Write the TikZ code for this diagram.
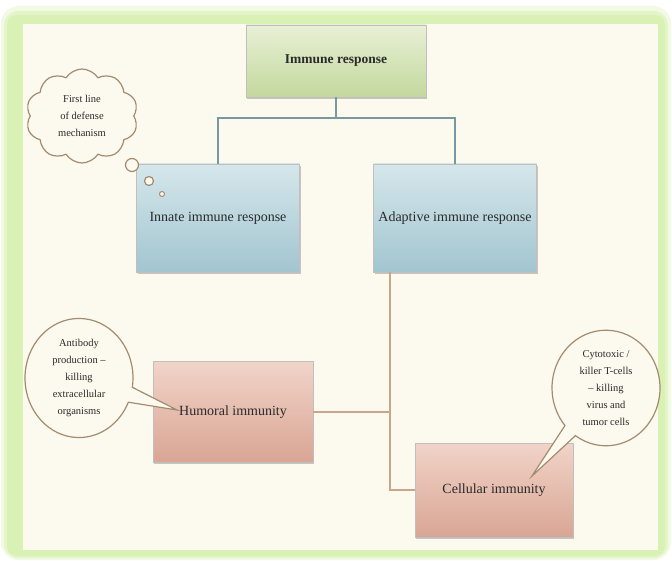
\documentclass[tikz,border=0pt]{standalone}
\usepackage{fontspec}
\setmainfont{Liberation Serif}
\usepackage{xcolor}
\usetikzlibrary{arrows.meta,positioning,shapes.symbols,shapes.callouts,shadows}

\definecolor{frameGreen}{HTML}{D9F1B4}
\definecolor{paper}{HTML}{FCF9EE}
\definecolor{linkBlue}{HTML}{7898A2}
\definecolor{linkBrown}{HTML}{C9A68A}
\definecolor{noteLine}{HTML}{A38B70}
\definecolor{inkGray}{HTML}{2A2A2A}
\definecolor{greenTop}{HTML}{E8F0D6}
\definecolor{greenBot}{HTML}{C3D89D}
\definecolor{blueTop}{HTML}{D5E7EB}
\definecolor{blueBot}{HTML}{A2C5D0}
\definecolor{brownTop}{HTML}{F1D4C8}
\definecolor{brownBot}{HTML}{D9A594}

\begin{document}
\begin{tikzpicture}[x=1pt,y=-1pt,thick,every node/.style={text=inkGray}]
\tikzstyle{box}=[draw=black!25, thin, align=center, minimum width=163, minimum height=108,
  font=\fontsize{14}{16}\selectfont,
  drop shadow={shadow xshift=1.3pt, shadow yshift=-1.6pt, opacity=.35, fill=black!60}]
\tikzstyle{topbox}=[box, minimum width=180, minimum height=72, top color=greenTop, bottom color=greenBot, font=\fontsize{13.5}{16}\selectfont\bfseries]
\tikzstyle{bluebox}=[box, top color=blueTop, bottom color=blueBot]
\tikzstyle{brownbox}=[box, top color=brownTop, bottom color=brownBot]
\tikzstyle{note}=[draw=noteLine, line width=1.2pt, fill=paper, align=center, font=\fontsize{10.5}{17}\selectfont]
\tikzstyle{bluelink}=[draw=linkBlue, line width=2.4pt]
\tikzstyle{brownlink}=[draw=linkBrown, line width=1.8pt]

\useasboundingbox (0,0) rectangle (672,561);
\fill[white] (0,0) rectangle (672,561);
\fill[frameGreen!35, rounded corners=18] (1,6) rectangle (671,560);
\fill[frameGreen!70, rounded corners=14] (4,11) rectangle (668,558);
\fill[frameGreen, rounded corners=10] (7,15) rectangle (665,556);
\fill[paper] (23,24) rectangle (658,550);

\node[topbox] (immune) at (336,61) {Immune response};
\node[bluebox] (innate) at (218,218) {Innate immune response};
\node[bluebox] (adaptive) at (455,218) {Adaptive immune response};
\node[brownbox, minimum width=160, minimum height=101] (humoral) at (233,412) {Humoral immunity};
\node[brownbox, minimum width=158, minimum height=94] (cellular) at (494,490) {Cellular immunity};

\coordinate (split) at (336,118);
\draw[bluelink] (immune.south) -- (split);
\draw[bluelink] (innate.north) |- (split) -| (adaptive.north);

\coordinate (trunk) at (390,272);
\coordinate (join) at (390,412);
\draw[brownlink] (trunk) |- (cellular.west);
\draw[brownlink] (humoral.east) -- (join);

\node[note, cloud, cloud puffs=10, cloud puff arc=115, aspect=1.25, minimum width=112, minimum height=94] (firstline) at (82,116) {First line\\of defense\\mechanism};
\draw[noteLine, line width=1.2pt, fill=paper] (132,165) circle (6.5);
\draw[noteLine, line width=1.2pt, fill=paper] (149,181) circle (4.5);
\draw[noteLine, line width=1pt, fill=paper] (162,194) circle (2.5);

\coordinate (humtip) at (177,410);
\node[note, ellipse callout, callout absolute pointer=(humtip), minimum width=108, minimum height=88] (antibody) at (79,378) {Antibody\\production --\\killing\\extracellular\\organisms};

\coordinate (celltip) at (532,476);
\node[note, ellipse callout, callout absolute pointer=(celltip), minimum width=108, minimum height=110] (cytotoxic) at (606,388) {Cytotoxic /\\killer T-cells\\-- killing\\virus and\\tumor cells};
\end{tikzpicture}
\end{document}
